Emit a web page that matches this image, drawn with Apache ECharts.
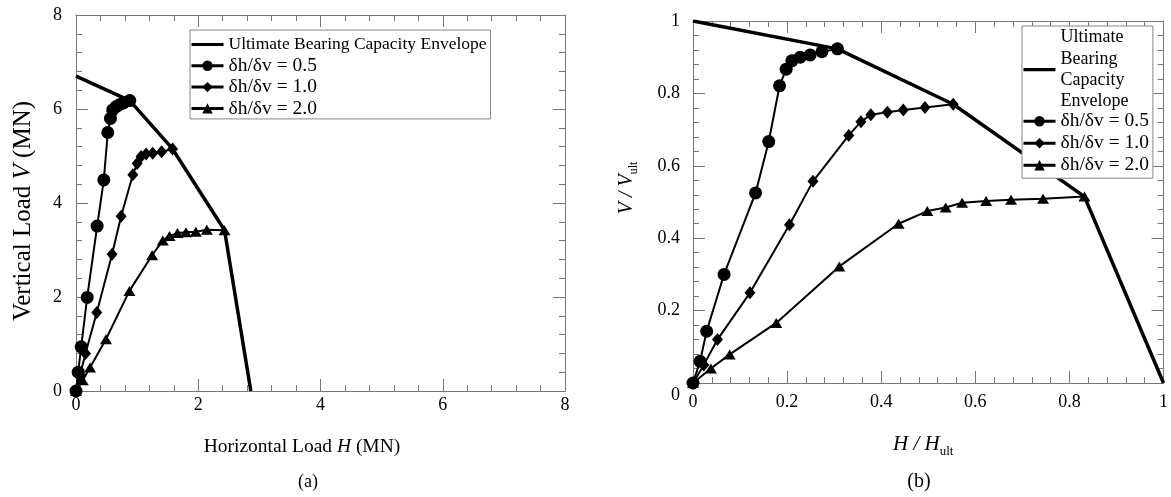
<!DOCTYPE html>
<html><head><meta charset="utf-8">
<script src="https://cdn.jsdelivr.net/npm/echarts/dist/echarts.min.js"></script>
<style>html,body{margin:0;padding:0;background:#fff}#c{width:1171px;height:497px}</style>
</head><body><div id="c"></div>
<script>
// ---- Data: (a) absolute loads in MN ----
const envH_a = [0, 0.88, 1.58, 2.43, 2.86];
const envV_a = [6.70, 6.18, 5.15, 3.42, 0];
const c05H_a = [0, 0.036, 0.085, 0.183, 0.346, 0.455, 0.52, 0.564, 0.60, 0.657, 0.71, 0.776, 0.88];
const c05V_a = [0, 0.40, 0.94, 1.99, 3.51, 4.49, 5.50, 5.80, 5.98, 6.05, 6.09, 6.13, 6.18];
const c10H_a = [0, 0.066, 0.155, 0.34, 0.59, 0.738, 0.93, 1.0, 1.065, 1.147, 1.255, 1.40, 1.58];
const c10V_a = [0, 0.34, 0.80, 1.67, 2.91, 3.72, 4.60, 4.84, 4.99, 5.04, 5.06, 5.09, 5.15];
const c20H_a = [0, 0.11, 0.23, 0.49, 0.874, 1.245, 1.42, 1.53, 1.66, 1.80, 1.96, 2.14, 2.43];
const c20V_a = [0, 0.23, 0.50, 1.10, 2.13, 2.89, 3.20, 3.30, 3.36, 3.38, 3.39, 3.43, 3.42];
// ---- Data: (b) normalised ----
const envH_b = [0, 0.307, 0.553, 0.832, 1];
const envV_b = [1, 0.923, 0.77, 0.515, 0];
const c05H_b = [0, 0.015, 0.029, 0.066, 0.133, 0.161, 0.184, 0.198, 0.210, 0.228, 0.249, 0.274, 0.307];
const c05V_b = [0, 0.06, 0.143, 0.30, 0.525, 0.667, 0.821, 0.867, 0.890, 0.90, 0.906, 0.915, 0.923];
const c10H_b = [0, 0.023, 0.052, 0.121, 0.205, 0.255, 0.331, 0.357, 0.378, 0.413, 0.447, 0.493, 0.553];
const c10V_b = [0, 0.05, 0.12, 0.249, 0.437, 0.557, 0.684, 0.722, 0.741, 0.748, 0.754, 0.761, 0.77];
const c20H_b = [0, 0.038, 0.078, 0.177, 0.311, 0.437, 0.498, 0.537, 0.572, 0.623, 0.676, 0.744, 0.832];
const c20V_b = [0, 0.04, 0.079, 0.166, 0.322, 0.44, 0.475, 0.485, 0.498, 0.503, 0.506, 0.509, 0.515];

const seriesNames = ['Ultimate Bearing Capacity Envelope', 'δh/δv = 0.5', 'δh/δv = 1.0', 'δh/δv = 2.0'];
const FF = '"Liberation Serif", "Times New Roman", serif';
const AX = '#777';
const zip = (a, b) => a.map((v, i) => [v, b[i]]);

function axis(gridIndex, min, max, interval, position, showLabel, margin, extra) {
  return Object.assign({
    type: 'value', gridIndex, min, max, interval, position,
    axisLine: { show: true, onZero: false, lineStyle: { color: AX, width: 1 } },
    axisTick: { show: true, inside: true, length: 12, lineStyle: { color: AX } },
    minorTick: { show: true, splitNumber: 5, length: 6, lineStyle: { color: AX } },
    splitLine: { show: false },
    axisLabel: { show: showLabel, color: '#000', fontFamily: FF, fontSize: 18, margin: margin }
  }, extra || {});
}
function nameStyle(size, subSize, padding) {
  return {
    color: '#000', fontFamily: FF, fontSize: size, padding,
    rich: {
      n: { fontFamily: FF, fontSize: size, color: '#000' },
      i: { fontFamily: FF, fontSize: size, fontStyle: 'italic', color: '#000' },
      s: { fontFamily: FF, fontSize: subSize, color: '#000', verticalAlign: 'bottom', padding: [0, 0, -3, 0] }
    }
  };
}

function mkSeries(xi, yi, H, V, nameIdx, symbol, size, lw) {
  return {
    type: 'line', name: seriesNames[nameIdx], xAxisIndex: xi, yAxisIndex: yi,
    data: zip(H, V), symbol, symbolSize: size, showSymbol: symbol !== 'none',
    lineStyle: { color: '#000', width: lw }, itemStyle: { color: '#000' },
    animation: false, z: nameIdx === 0 ? 2 : 3
  };
}
const envIcon = 'path://M0,0H32V3.2H0Z';
function legendData() {
  return [{ name: seriesNames[0], icon: envIcon }, seriesNames[1], seriesNames[2], seriesNames[3]];
}

const rightY = axis(1, 0, 1, 0.2, 'left', true, 13, { name: '{i|V / V}{s|ult}', nameLocation: 'middle', nameGap: 56, nameTextStyle: nameStyle(20, 12, [0, 0, 0, 28]) });
rightY.axisLabel.formatter = v => v === 0 ? '{z|0}' : String(v);
rightY.axisLabel.rich = { z: { fontFamily: FF, fontSize: 18, color: '#000', padding: [24, 0, 0, 0] } };

const option = {
  backgroundColor: '#fff',
  animation: false,
  grid: [
    { left: 76, top: 15, width: 489, height: 376 },
    { left: 693, top: 21, width: 472, height: 362 }
  ],
  xAxis: [
    axis(0, 0, 8, 2, 'bottom', true, 5, { name: '{n|Horizontal Load }{i|H}{n| (MN)}', nameLocation: 'middle', nameGap: 46, nameTextStyle: nameStyle(19.5, 12, [0, 37, 0, 0]) }),
    axis(0, 0, 8, 2, 'top', false, 8),
    axis(1, 0, 1, 0.2, 'bottom', true, 10, { name: '{i|H / H}{s|ult}', nameLocation: 'middle', nameGap: 51, nameTextStyle: nameStyle(21, 13, [0, 10, 0, 0]) }),
    axis(1, 0, 1, 0.2, 'top', false, 8)
  ],
  yAxis: [
    axis(0, 0, 8, 2, 'left', true, 14, { name: '{n|Vertical Load }{i|V}{n| (MN)}', nameLocation: 'middle', nameGap: 40, nameTextStyle: nameStyle(25, 15, [0, 16, 0, 0]) }),
    axis(0, 0, 8, 2, 'right', false, 8),
    rightY,
    axis(1, 0, 1, 0.2, 'right', false, 8)
  ],
  legend: [
    {
      orient: 'vertical', left: 190, top: 30, padding: [4, 4, 0, 0],
      itemWidth: 32, itemHeight: 13, itemGap: 0.3,
      borderColor: '#888', borderWidth: 1, backgroundColor: '#fff',
      lineStyle: { width: 3 },
      textStyle: {
        fontFamily: FF, fontSize: 17.5, color: '#000', lineHeight: 21,
        rich: {
          e: { fontFamily: FF, fontSize: 17.5, color: '#000', lineHeight: 21 },
          d: { fontFamily: FF, fontSize: 19.5, color: '#000', lineHeight: 21 }
        }
      },
      formatter: n => n === seriesNames[0] ? '{e|' + n + '}' : '{d|' + n + '}',
      data: legendData()
    },
    {
      orient: 'vertical', left: 1022, top: 26, padding: [1, 4, 0, 0],
      itemWidth: 32, itemHeight: 13, itemGap: -4,
      borderColor: '#888', borderWidth: 1, backgroundColor: '#fff',
      lineStyle: { width: 3 },
      textStyle: {
        fontFamily: FF, fontSize: 18, color: '#000', lineHeight: 26,
        rich: {
          e: { fontFamily: FF, fontSize: 18, color: '#000', lineHeight: 21.3 },
          d: { fontFamily: FF, fontSize: 19.5, color: '#000', lineHeight: 26 }
        }
      },
      formatter: n => n === seriesNames[0] ? '{e|Ultimate}\n{e|Bearing}\n{e|Capacity}\n{e|Envelope}' : '{d|' + n + '}',
      data: legendData()
    }
  ],
  graphic: [
    { type: 'text', x: 308, y: 482, silent: true, style: { text: '(a)', fontFamily: FF, fontSize: 18, fill: '#000', align: 'center', verticalAlign: 'middle', textAlign: 'center', textVerticalAlign: 'middle' } },
    { type: 'text', x: 919, y: 482, silent: true, style: { text: '(b)', fontFamily: FF, fontSize: 20, fill: '#000', align: 'center', verticalAlign: 'middle', textAlign: 'center', textVerticalAlign: 'middle' } }
  ],
  series: [
    mkSeries(0, 0, envH_a, envV_a, 0, 'none', 0, 3.5),
    mkSeries(0, 0, c05H_a, c05V_a, 1, 'circle', 13, 2),
    mkSeries(0, 0, c10H_a, c10V_a, 2, 'diamond', [11, 13], 2),
    mkSeries(0, 0, c20H_a, c20V_a, 3, 'triangle', [12, 10], 2),
    mkSeries(2, 2, envH_b, envV_b, 0, 'none', 0, 3.5),
    mkSeries(2, 2, c05H_b, c05V_b, 1, 'circle', 13, 2),
    mkSeries(2, 2, c10H_b, c10V_b, 2, 'diamond', [11, 13], 2),
    mkSeries(2, 2, c20H_b, c20V_b, 3, 'triangle', [12, 10], 2)
  ]
};
const chart = echarts.init(document.getElementById('c'), null, { renderer: 'canvas' });
chart.setOption(option);
</script></body></html>
